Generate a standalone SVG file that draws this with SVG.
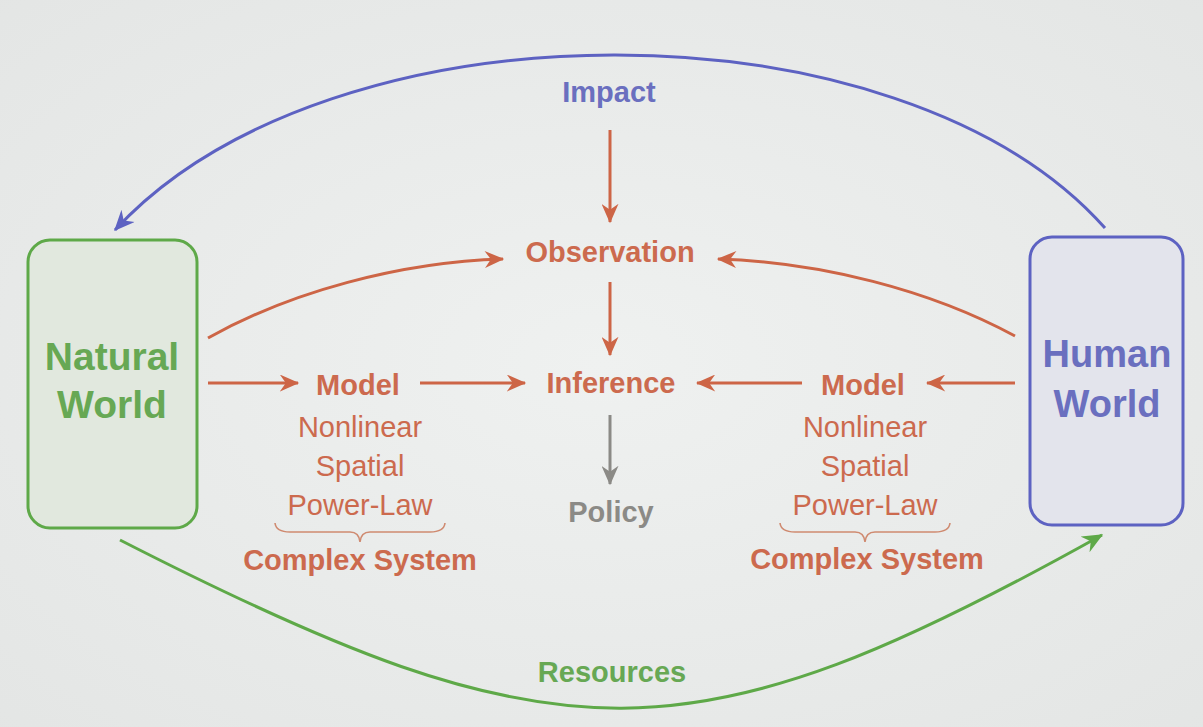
<svg xmlns="http://www.w3.org/2000/svg" width="1203" height="727" viewBox="0 0 1203 727">
<defs>
<style>
.t{font-family:"Liberation Sans",Arial,sans-serif;font-size:29px;text-anchor:middle}
.b{font-weight:bold}
.red{fill:#cc6a4e}
.blue{fill:#6a6fbf}
.green{fill:#67a854}
.grey{fill:#8b8a86}
.big{font-size:39px;font-weight:bold}
.lr{fill:none;stroke:#cd6546;stroke-width:3}
.lb{fill:none;stroke:#5d62c2;stroke-width:3}
.lg{fill:none;stroke:#5ea948;stroke-width:3}
.lk{fill:none;stroke:#8b8a86;stroke-width:3}
.brace{fill:none;stroke:#cf8a70;stroke-width:1.6}
</style>
<marker id="aR" viewBox="0 0 16 14" refX="15" refY="7" markerWidth="20" markerHeight="17" markerUnits="userSpaceOnUse" orient="auto"><path d="M0,0 L16,7 L0,14 L5,7 z" fill="#cd6546"/></marker>
<marker id="aB" viewBox="0 0 16 14" refX="15" refY="7" markerWidth="21" markerHeight="18" markerUnits="userSpaceOnUse" orient="auto"><path d="M0,0 L16,7 L0,14 L5,7 z" fill="#5d62c2"/></marker>
<marker id="aG" viewBox="0 0 16 14" refX="15" refY="7" markerWidth="21" markerHeight="18" markerUnits="userSpaceOnUse" orient="auto"><path d="M0,0 L16,7 L0,14 L5,7 z" fill="#5ea948"/></marker>
<marker id="aK" viewBox="0 0 16 14" refX="15" refY="7" markerWidth="20" markerHeight="17" markerUnits="userSpaceOnUse" orient="auto"><path d="M0,0 L16,7 L0,14 L5,7 z" fill="#8b8a86"/></marker>
<radialGradient id="bg" cx="0.5" cy="0.5" r="0.75">
<stop offset="0" stop-color="#eff1f0"/>
<stop offset="1" stop-color="#e3e5e4"/>
</radialGradient>
</defs>
<rect x="0" y="0" width="1203" height="727" fill="url(#bg)"/>

<g id="connectors">
<path class="lb" d="M1105,228 C900,-3 330,-3 115,230" marker-end="url(#aB)"/>
<path class="lg" d="M120,540 C560,765 690,765 1102,535" marker-end="url(#aG)"/>
<path class="lr" d="M208,338 C290,292 400,262 503,259" marker-end="url(#aR)"/>
<path class="lr" d="M1015,336 C930,290 820,262 718,259" marker-end="url(#aR)"/>
<line class="lr" x1="208" y1="383" x2="298" y2="383" marker-end="url(#aR)"/>
<line class="lr" x1="420" y1="383" x2="525" y2="383" marker-end="url(#aR)"/>
<line class="lr" x1="1015" y1="383" x2="927" y2="383" marker-end="url(#aR)"/>
<line class="lr" x1="802" y1="383" x2="697" y2="383" marker-end="url(#aR)"/>
<line class="lr" x1="610" y1="130" x2="610" y2="222" stroke-width="2.5" marker-end="url(#aR)"/>
<line class="lr" x1="610" y1="282" x2="610" y2="355" marker-end="url(#aR)"/>
<line class="lk" x1="610" y1="415" x2="610" y2="484" marker-end="url(#aK)"/>
<path class="brace" d="M275,523 Q276,532 290,532 L350,532 Q359,532 360,542 Q361,532 370,532 L430,532 Q444,532 445,523"/>
<path class="brace" d="M780,523 Q781,532 795,532 L855,532 Q864,532 865,542 Q866,532 875,532 L935,532 Q949,532 950,523"/>
</g>

<g id="natural-world">
<rect x="28" y="240" width="169" height="288" rx="22" fill="#e1e8de" stroke="#5ea948" stroke-width="3"/>
<text class="t big green" x="112" y="370">Natural</text>
<text class="t big green" x="112" y="418">World</text>
</g>

<g id="human-world">
<rect x="1030" y="237" width="153" height="288" rx="22" fill="#e3e4ec" stroke="#5d62c2" stroke-width="3"/>
<text class="t big blue" x="1107" y="367" style="font-size:38px">Human</text>
<text class="t big blue" x="1107" y="417" style="font-size:38px">World</text>
</g>

<g id="impact"><text class="t b blue" x="609" y="102">Impact</text></g>
<g id="observation"><text class="t b red" x="610" y="262">Observation</text></g>
<g id="inference"><text class="t b red" x="611" y="393">Inference</text></g>
<g id="policy"><text class="t b grey" x="611" y="522">Policy</text></g>
<g id="resources"><text class="t b green" x="612" y="682">Resources</text></g>

<g id="model-left">
<text class="t b red" x="358" y="395">Model</text>
<text class="t red" x="360" y="437">Nonlinear</text>
<text class="t red" x="360" y="476">Spatial</text>
<text class="t red" x="360" y="515">Power-Law</text>
<text class="t b red" x="360" y="570">Complex System</text>
</g>

<g id="model-right">
<text class="t b red" x="863" y="395">Model</text>
<text class="t red" x="865" y="437">Nonlinear</text>
<text class="t red" x="865" y="476">Spatial</text>
<text class="t red" x="865" y="515">Power-Law</text>
<text class="t b red" x="867" y="569">Complex System</text>
</g>
</svg>
